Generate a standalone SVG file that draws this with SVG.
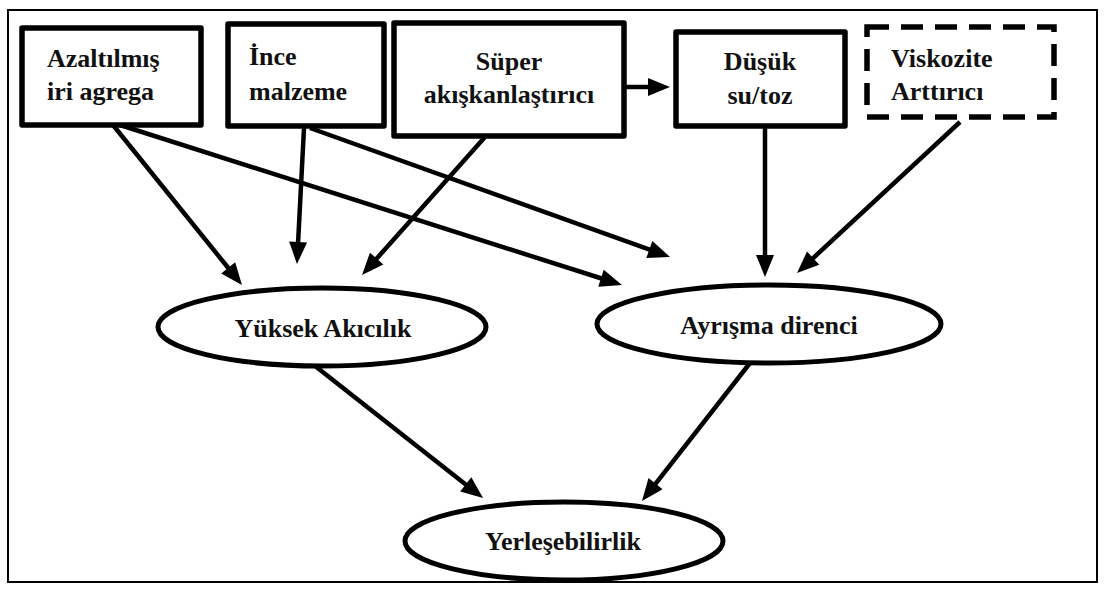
<svg xmlns="http://www.w3.org/2000/svg" width="1105" height="592" viewBox="0 0 1105 592">
<style>
.box{fill:#fff;stroke:#000;stroke-width:5.5;stroke-linejoin:round}
.dash{fill:#fff;stroke:#000;stroke-width:5.5;stroke-dasharray:22 12}
.ell{fill:#fff;stroke:#000;stroke-width:5}
.t{font-family:"Liberation Serif","Times New Roman",serif;font-weight:bold;font-size:26px;fill:#111}
.c{text-anchor:middle}
.conn line{stroke:#000;stroke-width:4.5}
</style>
<defs>
<marker id="ah" markerUnits="userSpaceOnUse" markerWidth="22" markerHeight="18" refX="4" refY="9" orient="auto" overflow="visible">
<path d="M0,0 L22,9 L0,18 z" fill="#000"/>
</marker>
</defs>
<rect x="0" y="0" width="1105" height="592" fill="#fff"/>
<rect x="8" y="10" width="1089" height="572" fill="none" stroke="#000" stroke-width="2"/>
<g id="connectors" class="conn">
<line x1="113" y1="125" x2="230.7" y2="271" marker-end="url(#ah)"/>
<line x1="120" y1="125" x2="604.8" y2="279.5" marker-end="url(#ah)"/>
<line x1="304" y1="128" x2="297.9" y2="246" marker-end="url(#ah)"/>
<line x1="310" y1="128" x2="653.1" y2="250.9" marker-end="url(#ah)"/>
<line x1="485" y1="137" x2="374" y2="261.6" marker-end="url(#ah)"/>
<line x1="765" y1="126" x2="765" y2="259" marker-end="url(#ah)"/>
<line x1="960" y1="122" x2="810.2" y2="260.8" marker-end="url(#ah)"/>
<line x1="310" y1="362" x2="468.9" y2="486.9" marker-end="url(#ah)"/>
<line x1="750" y1="363" x2="653.1" y2="486.8" marker-end="url(#ah)"/>
<line x1="624" y1="87" x2="652" y2="87" marker-end="url(#ah)"/>
</g>
<g id="n-azaltilmis">
<rect class="box" x="22" y="28" width="179" height="97"/>
<text class="t" x="47" y="67">Azaltılmış</text>
<text class="t" x="47" y="100">iri agrega</text>
</g>
<g id="n-ince">
<rect class="box" x="228" y="24" width="156" height="102"/>
<text class="t" x="249" y="65">İnce</text>
<text class="t" x="249" y="100">malzeme</text>
</g>
<g id="n-super">
<rect class="box" x="394" y="23" width="230" height="113"/>
<text class="t c" x="509" y="70">Süper</text>
<text class="t c" x="509" y="103">akışkanlaştırıcı</text>
</g>
<g id="n-dusuk">
<rect class="box" x="676" y="32" width="169" height="94"/>
<text class="t c" x="760" y="70">Düşük</text>
<text class="t c" x="760" y="104">su/toz</text>
</g>
<g id="n-viskozite">
<rect class="dash" x="867" y="27" width="187" height="90"/>
<text class="t" x="891" y="67">Viskozite</text>
<text class="t" x="891" y="100">Arttırıcı</text>
</g>
<g id="n-yuksek">
<ellipse class="ell" cx="322" cy="327" rx="164" ry="39"/>
<text class="t c" x="323" y="337">Yüksek Akıcılık</text>
</g>
<g id="n-ayrisma">
<ellipse class="ell" cx="769" cy="324" rx="172" ry="39"/>
<text class="t c" x="769" y="334">Ayrışma direnci</text>
</g>
<g id="n-yerlesebilirlik">
<ellipse class="ell" cx="564" cy="541" rx="159" ry="39"/>
<text class="t c" x="563" y="550">Yerleşebilirlik</text>
</g>
</svg>
